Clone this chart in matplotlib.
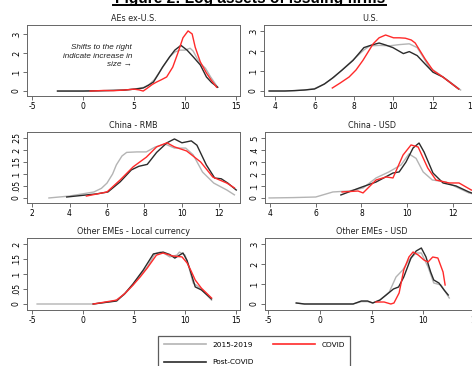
import matplotlib.pyplot as plt
from matplotlib.lines import Line2D

# colours of the three periods
c_pre = '#b4b4b4'
c_covid = '#ff2a2a'
c_post = '#2b2b2b'

# ---- AEs ex-U.S.
aes_pre_x = [-2.5, 0, 2, 4, 5, 5.5, 6, 6.5, 7, 7.5, 8, 8.5, 9, 9.5, 10, 10.5, 10.8, 11.2, 11.6, 12, 12.5, 13.2]
aes_pre_y = [0, 0, 0.002, 0.005, 0.01, 0.015, 0.02, 0.035, 0.06, 0.1, 0.14, 0.18, 0.205, 0.215, 0.215, 0.225, 0.21, 0.17, 0.14, 0.12, 0.075, 0.02]
aes_post_x = [-2.5, 0, 2, 4, 5, 5.5, 5.9, 6.4, 6.9, 7.4, 7.8, 8.5, 9.0, 9.6, 10.2, 10.8, 11.5, 12.1, 12.6, 13.2]
aes_post_y = [0, 0, 0.002, 0.005, 0.01, 0.013, 0.016, 0.03, 0.047, 0.09, 0.126, 0.18, 0.215, 0.24, 0.215, 0.18, 0.137, 0.074, 0.045, 0.02]
aes_cov_x = [0.7, 2, 3, 4, 5, 5.5, 5.9, 6.3, 6.8, 7.2, 7.7, 8.2, 8.8, 9.3, 9.8, 10.3, 10.7, 11.0, 11.5, 12.1, 12.6, 13.1]
aes_cov_y = [0, 0.003, 0.002, 0.005, 0.01, 0.006, 0.0, 0.015, 0.035, 0.047, 0.06, 0.074, 0.126, 0.2, 0.28, 0.316, 0.3, 0.23, 0.153, 0.095, 0.055, 0.02]

# ---- U.S.
us_pre_x = [3.7, 4.5, 5, 5.5, 6, 6.5, 7, 7.5, 8, 8.5, 8.8, 9.3, 9.8, 10.3, 10.8, 11.2, 11.5, 11.8, 12.3, 12.8, 13.4]
us_pre_y = [0, 0, 0.002, 0.005, 0.012, 0.035, 0.07, 0.115, 0.16, 0.205, 0.226, 0.228, 0.226, 0.232, 0.236, 0.217, 0.17, 0.12, 0.085, 0.05, 0.005]
us_post_x = [3.7, 4.5, 5, 5.5, 6, 6.5, 6.9, 7.4, 7.95, 8.5, 8.9, 9.27, 9.6, 9.97, 10.5, 10.8, 11.2, 11.6, 12, 12.5, 13.3]
us_post_y = [0, 0, 0.002, 0.005, 0.01, 0.035, 0.064, 0.105, 0.153, 0.217, 0.23, 0.24, 0.23, 0.217, 0.187, 0.197, 0.177, 0.135, 0.094, 0.07, 0.01]
us_cov_x = [6.9, 7.3, 7.75, 8.1, 8.45, 8.97, 9.27, 9.6, 10.0, 10.3, 10.6, 10.9, 11.1, 11.35, 11.6, 12.0, 12.5, 13.3]
us_cov_y = [0.015, 0.04, 0.07, 0.105, 0.153, 0.236, 0.266, 0.28, 0.266, 0.266, 0.264, 0.255, 0.24, 0.2, 0.16, 0.103, 0.07, 0.01]

# ---- China - RMB
rmb_pre_x = [2.9, 4.0, 5.3, 5.7, 6.0, 6.3, 6.5, 6.8, 7.05, 7.6, 8.1, 8.56, 9.1, 9.6, 10.2, 10.6, 11.1, 11.7, 12.4, 12.8]
rmb_pre_y = [0, 0.008, 0.025, 0.04, 0.062, 0.1, 0.138, 0.175, 0.19, 0.192, 0.192, 0.212, 0.225, 0.208, 0.208, 0.18, 0.108, 0.062, 0.033, 0.013]
rmb_post_x = [3.85, 5.45, 6.05, 6.7, 7.3, 7.7, 8.15, 8.65, 9.2, 9.6, 10.0, 10.5, 10.8, 11.3, 11.75, 12.1, 12.45, 12.9]
rmb_post_y = [0.004, 0.017, 0.025, 0.067, 0.117, 0.132, 0.14, 0.19, 0.23, 0.246, 0.23, 0.238, 0.22, 0.138, 0.083, 0.08, 0.062, 0.033]
rmb_cov_x = [4.9, 6.0, 6.7, 7.4, 8.1, 8.65, 9.2, 9.6, 10.25, 11.0, 11.65, 12.4, 12.8]
rmb_cov_y = [0.008, 0.025, 0.075, 0.13, 0.17, 0.213, 0.23, 0.213, 0.196, 0.15, 0.087, 0.062, 0.042]

# ---- China - USD
usd_pre_x = [3.96, 5, 6, 6.75, 7.45, 8.07, 8.64, 9.2, 9.73, 10.08, 10.39, 10.7, 11.1, 11.7, 12.14, 12.7, 13]
usd_pre_y = [0, 0.003, 0.008, 0.05, 0.058, 0.083, 0.167, 0.217, 0.275, 0.367, 0.33, 0.217, 0.15, 0.133, 0.092, 0.042, 0.03]
usd_post_x = [7.1, 7.9, 8.64, 9.38, 9.65, 9.95, 10.26, 10.52, 10.74, 11.13, 11.57, 12.14, 12.7, 13]
usd_post_y = [0.025, 0.083, 0.133, 0.208, 0.217, 0.3, 0.417, 0.458, 0.383, 0.208, 0.125, 0.1, 0.05, 0.03]
usd_cov_x = [7.15, 7.85, 8.07, 8.64, 9.08, 9.38, 9.82, 10.17, 10.48, 10.9, 11.26, 11.83, 12.27, 12.8, 13]
usd_cov_y = [0.05, 0.058, 0.042, 0.15, 0.175, 0.167, 0.358, 0.442, 0.425, 0.25, 0.15, 0.125, 0.125, 0.067, 0.055]

# ---- Other EMEs - Local currency
loc_pre_x = [-4.5, 1.0, 3.1, 4.0, 4.9, 5.6, 6.3, 7.05, 7.55, 8.0, 8.5, 9.2, 9.45, 10.0, 10.4, 10.8, 11.5, 12.6]
loc_pre_y = [0, 0, 0.01, 0.03, 0.063, 0.095, 0.123, 0.167, 0.173, 0.168, 0.157, 0.163, 0.173, 0.163, 0.12, 0.07, 0.053, 0.013]
loc_post_x = [1.0, 3.3, 4.1, 4.9, 5.9, 6.9, 7.85, 8.5, 9.0, 9.8, 10.2, 10.5, 11.0, 11.6, 12.6]
loc_post_y = [0, 0.01, 0.035, 0.067, 0.113, 0.167, 0.173, 0.165, 0.153, 0.17, 0.145, 0.113, 0.057, 0.047, 0.017]
loc_cov_x = [1.0, 3.3, 4.1, 4.9, 5.6, 6.3, 7.2, 7.85, 8.8, 9.7, 10.2, 10.6, 11.0, 11.6, 12.6]
loc_cov_y = [0, 0.013, 0.035, 0.063, 0.09, 0.12, 0.163, 0.17, 0.16, 0.157, 0.137, 0.11, 0.08, 0.053, 0.02]

# ---- Other EMEs - USD
eme_pre_x = [-2.3, -1.5, 3.2, 4.0, 4.6, 5.1, 5.8, 6.7, 7.35, 8.0, 8.6, 9.3, 9.8, 10.45, 11.0, 11.7, 12.5]
eme_pre_y = [0.005, 0, 0, 0.012, 0.012, 0.005, 0.02, 0.06, 0.135, 0.17, 0.22, 0.255, 0.255, 0.185, 0.105, 0.095, 0.03]
eme_post_x = [-2.3, -1.5, 3.2, 4.0, 4.6, 5.1, 5.8, 6.4, 7.1, 7.6, 8.1, 8.8, 9.3, 9.8, 10.25, 10.7, 11.0, 11.5, 12.0, 12.4]
eme_post_y = [0.005, 0, 0, 0.015, 0.015, 0.005, 0.02, 0.045, 0.075, 0.085, 0.135, 0.23, 0.265, 0.28, 0.235, 0.16, 0.12, 0.105, 0.07, 0.045]
eme_cov_x = [5.4, 6.2, 6.85, 7.15, 7.65, 8.1, 8.6, 9.0, 9.5, 10.05, 10.45, 10.9, 11.4, 11.9, 12.1]
eme_cov_y = [0.01, 0.01, 0.0, 0.005, 0.055, 0.17, 0.235, 0.26, 0.245, 0.22, 0.21, 0.235, 0.23, 0.16, 0.095]

W, H = 472, 366
fig = plt.figure(figsize=(W / 100, H / 100), dpi=100)


def make_ax(px, py, pw, ph):
    # axes box given in pixels from the top-left corner
    return fig.add_axes([px / W, 1 - (py + ph) / H, pw / W, ph / H])


def panel(ax, title, pre, post, cov, xlim, ylim, xticks, yticks, ylabels):
    ax.plot(pre[0], pre[1], color=c_pre, lw=1.0, label='2015-2019')
    ax.plot(post[0], post[1], color=c_post, lw=1.0, label='Post-COVID')
    ax.plot(cov[0], cov[1], color=c_covid, lw=1.0, label='COVID')
    ax.set_xlim(xlim)
    ax.set_ylim(ylim)
    ax.set_xticks(xticks)
    ax.set_xticklabels([str(t) for t in xticks])
    ax.set_yticks(yticks)
    ax.set_yticklabels(ylabels, rotation=90, va='center')
    ax.tick_params(labelsize=5.5, length=3, width=0.6, color='#555555', pad=1.5)
    for s in ax.spines.values():
        s.set_color('#666666')
        s.set_linewidth(0.7)
    ax.set_title(title, fontsize=5.8, pad=3, color='#222222')


ax1 = make_ax(27, 25, 213, 71)
panel(ax1, 'AEs ex-U.S.', (aes_pre_x, aes_pre_y), (aes_post_x, aes_post_y), (aes_cov_x, aes_cov_y),
      (-5.49, 15.39), (-0.026, 0.347), [-5, 0, 5, 10, 15], [0, 0.1, 0.2, 0.3], ['0', '.1', '.2', '.3'])
ax1.text(4.8, 0.245, 'Shifts to the right\nindicate increase in\nsize \u2192', fontsize=5.9, style='italic',
         ha='right', va='top', linespacing=1.3, family='Liberation Sans', color='#222222')

ax2 = make_ax(264, 25, 213, 71)
panel(ax2, 'U.S.', (us_pre_x, us_pre_y), (us_post_x, us_post_y), (us_cov_x, us_cov_y),
      (3.44, 14.23), (-0.025, 0.33), [4, 6, 8, 10, 12, 14], [0, 0.1, 0.2, 0.3], ['0', '.1', '.2', '.3'])

ax3 = make_ax(27, 132, 213, 71)
panel(ax3, 'China - RMB', (rmb_pre_x, rmb_pre_y), (rmb_post_x, rmb_post_y), (rmb_cov_x, rmb_cov_y),
      (1.73, 13.1), (-0.021, 0.275), [2, 4, 6, 8, 10, 12], [0, 0.05, 0.1, 0.15, 0.2, 0.25],
      ['0', '.05', '.1', '.15', '.2', '.25'])

ax4 = make_ax(265, 132, 213, 71)
panel(ax4, 'China - USD', (usd_pre_x, usd_pre_y), (usd_post_x, usd_post_y), (usd_cov_x, usd_cov_y),
      (3.78, 13.1), (-0.042, 0.55), [4, 6, 8, 10, 12], [0, 0.1, 0.2, 0.3, 0.4, 0.5],
      ['0', '.1', '.2', '.3', '.4', '.5'])

ax5 = make_ax(27, 238, 213, 72)
panel(ax5, 'Other EMEs - Local currency', (loc_pre_x, loc_pre_y), (loc_post_x, loc_post_y), (loc_cov_x, loc_cov_y),
      (-5.49, 15.39), (-0.02, 0.22), [-5, 0, 5, 10, 15], [0, 0.05, 0.1, 0.15, 0.2],
      ['0', '.05', '.1', '.15', '.2'])

ax6 = make_ax(265, 238, 213, 72)
panel(ax6, 'Other EMEs - USD', (eme_pre_x, eme_pre_y), (eme_post_x, eme_post_y), (eme_cov_x, eme_cov_y),
      (-5.32, 15.28), (-0.03, 0.33), [-5, 0, 5, 10, 15], [0, 0.1, 0.2, 0.3], ['0', '.1', '.2', '.3'])

# legend below the panels
h, l = ax6.get_legend_handles_labels()
leg = fig.legend(h, l, ncol=2, loc='upper left',
                 bbox_to_anchor=(158 / W, 1 - 336 / H), fontsize=5.3, handlelength=5.8,
                 handletextpad=0.8, columnspacing=2.6, frameon=True, fancybox=False,
                 borderpad=0.75, labelspacing=1.55, borderaxespad=0)
leg.get_frame().set_edgecolor('#333333')
leg.get_frame().set_linewidth(0.9)
for ln in leg.get_lines():
    ln.set_linewidth(1.2)

# figure title, mostly cut off at the top like the reference
fig.text(250 / W, 1 - 2.5 / H, 'Figure 2: Log assets of issuing firms', ha='center', va='baseline',
         fontsize=11.2, fontweight='bold', family='Liberation Sans')
fig.add_artist(Line2D([113 / W, 386 / W], [1 - 4.8 / H, 1 - 4.8 / H], color='black', lw=1.4))

fig.savefig('out.png', dpi=100)
